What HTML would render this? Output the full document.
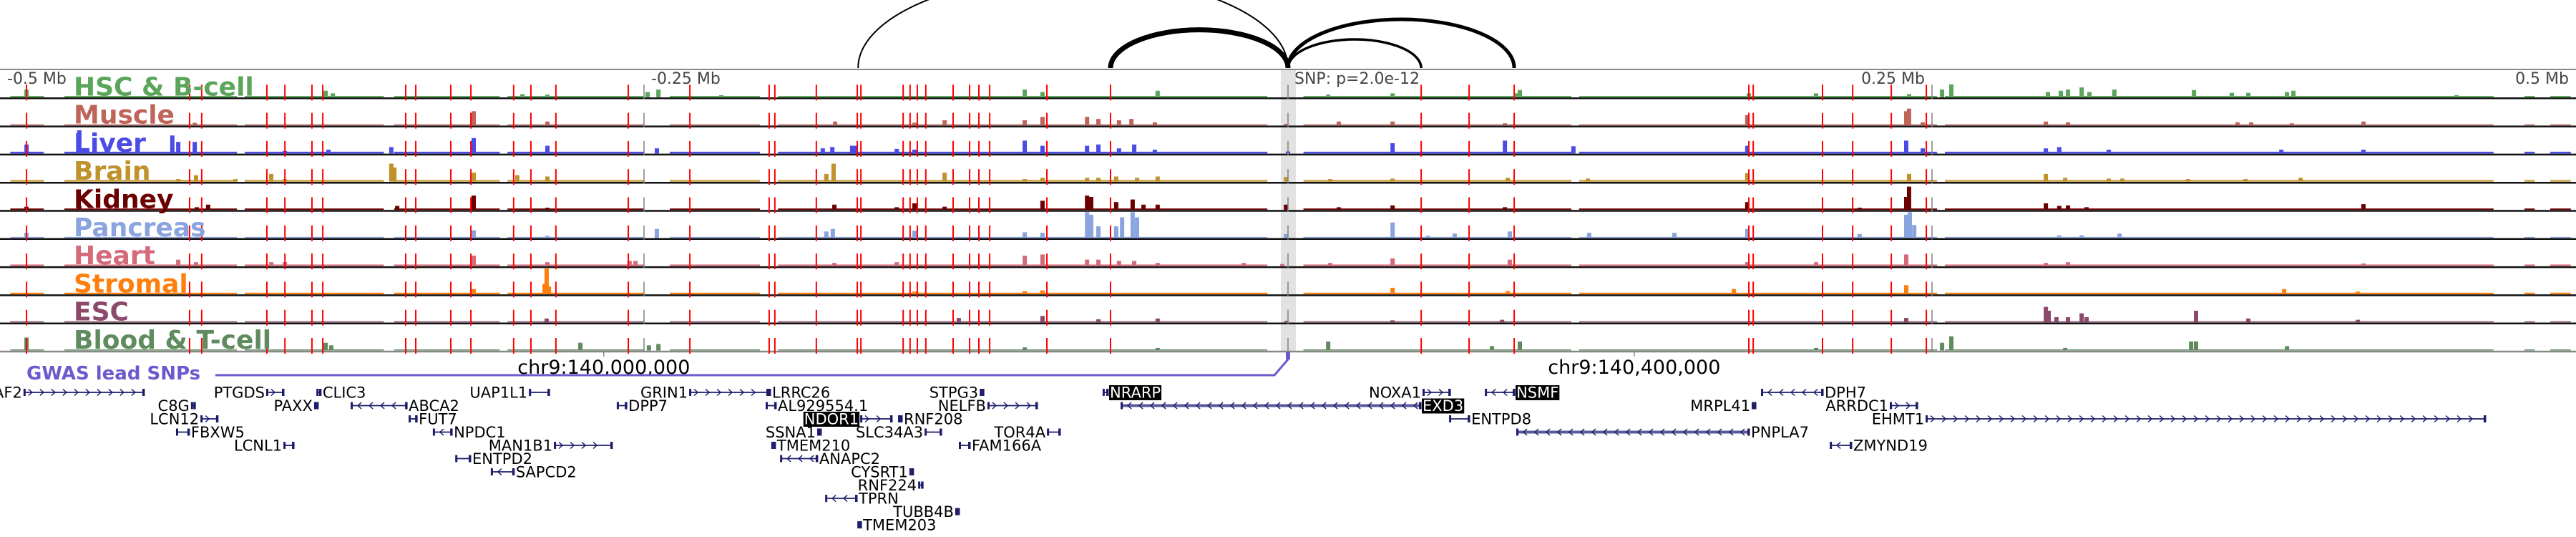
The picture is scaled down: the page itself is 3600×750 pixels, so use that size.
<!DOCTYPE html>
<html><head><meta charset="utf-8">
<style>
html,body{margin:0;padding:0;background:#fff;}
svg{display:block;font-family:"DejaVu Sans","Liberation Sans",sans-serif;}
</style></head>
<body>
<svg id="chart" width="3600" height="750" viewBox="0 0 3600 750" xmlns="http://www.w3.org/2000/svg">
<g id="bg"></g>
<g id="tracks"></g>
<g id="arcs"></g>
<g id="axis"></g>
<g id="genes"></g>
</svg>
<script>
// ---------- data ----------
const trackNames = ["HSC & B-cell","Muscle","Liver","Brain","Kidney","Pancreas","Heart","Stromal","ESC","Blood & T-cell"];
const trackColors = ["#5aa55a","#c0645a","#4b4be6","#c0922c","#6b0000","#8aa4e0","#d46a7a","#ff7f0e","#8b4a6b","#5f8b5f"];
const baseLevels = [0.05,0.04,0.07,0.06,0.05,0.04,0.06,0.06,0.04,0.04];
const coverage = [[-496,-483],[-475,-408],[-405,-351],[-347,-306],[-303,-250],[-240,-205],[-198,-8],[6,110],[113,252],[255,468],[480,484],[490,498]];
const peaksHSC = [[-489.7,.3],[-373.6,.25],[-370.8,.15],[-297.2,.12],[-287.5,.1],[-248.6,.2],[-244.4,.3],[-220,.08],[-102.2,.3],[-95.3,.2],[-50.6,.25],[15.6,.1],[40.6,.15],[88.9,.15],[90,.28],[178.9,.15],[205,.15],[241.1,.12],[253.9,.3],[257.5,.5],[295,.2],[300,.25],[302.8,.3],[308.1,.38],[311.1,.2],[320.8,.3],[351.7,.28],[366.4,.17],[372.8,.17],[387.8,.2],[390.3,.25],[453.6,.08]];
const peaksMuscle = [[-424.4,.1],[-316.1,.55],[-287.5,.15],[-175.8,.15],[-145,.1],[-133.3,.2],[-102.2,.2],[-95.3,.33],[-78,.33],[-73.6,.25],[-65.6,.2],[-60.8,.25],[-51.7,.12],[-0.8,.06],[19.7,.15],[40.6,.15],[84.2,.08],[178.3,.4],[240,.55],[241.1,.65],[246.4,.12],[294.2,.15],[302.8,.12],[368.6,.12],[373.9,.12],[389.7,.08],[417.5,.15]];
const peaksLiver = [[-489.7,.35],[-469.2,.9],[-433.1,.7],[-430.8,.45],[-424.4,.45],[-389.4,.1],[-372.5,.15],[-348.1,.25],[-316.1,.6],[-287.5,.3],[-245,.2],[-180.6,.2],[-176.9,.25],[-169.2,.3],[-168.3,.3],[-151.9,.18],[-145,.15],[-102.2,.5],[-95.3,.3],[-78,.3],[-73.6,.35],[-65.6,.2],[-59.7,.35],[-51.7,.15],[0,.08],[40.6,.4],[84.2,.5],[110.8,.28],[178.3,.3],[240,.5],[246.4,.2],[294.2,.2],[299.4,.25],[318.6,.15],[385.6,.15],[417.5,.15]];
const peaksBrain = [[-430.8,.1],[-423.9,.25],[-408.6,.1],[-394.7,.3],[-389.4,.1],[-348.1,.7],[-346.9,.55],[-316.1,.35],[-299.2,.25],[-287.5,.2],[-179.2,.3],[-176.4,.7],[-133.3,.35],[-102.2,.1],[-95.3,.15],[-78,.15],[-73.6,.15],[-66.7,.2],[-58.6,.15],[-50.6,.2],[-0.8,.18],[16.4,.1],[40.6,.12],[85.3,.15],[116.4,.12],[178.3,.33],[241.1,.3],[294.2,.3],[301.7,.15],[318.6,.12],[323.9,.12],[349.4,.1],[371.7,.1],[393.1,.15]];
const peaksKidney = [[-489.7,.12],[-469.2,.15],[-423.6,.1],[-419.2,.2],[-345.8,.15],[-316.1,.55],[-287.5,.08],[-176.1,.2],[-151.9,.1],[-145,.25],[-133.3,.12],[-95.3,.35],[-78,.55],[-76.4,.5],[-66.7,.3],[-60.3,.4],[-56.1,.2],[-50.6,.2],[-0.8,.2],[19.7,.1],[40.6,.17],[84.2,.1],[178.3,.3],[221.9,.08],[240,.5],[241.1,.9],[294.2,.25],[299.4,.15],[302.8,.17],[310,.1],[417.5,.22]];
const peaksPancreas = [[-489.7,.2],[-316.1,.3],[-287.5,.08],[-245,.35],[-179.2,.25],[-176.7,.35],[-145,.28],[-102.2,.22],[-95.3,.2],[-78,1.0],[-76.4,.9],[-73.6,.45],[-66.7,.45],[-64.4,.8],[-60.3,1.0],[-58.6,.8],[-0.8,.15],[40.6,.6],[54.4,.08],[64.7,.17],[86.1,.25],[116.9,.2],[150,.2],[178.3,.35],[221.9,.15],[240,.9],[241.4,1.0],[243.1,.5],[299.4,.1],[308.1,.1],[322.8,.17]];
const peaksHeart = [[-430.8,.25],[-423.9,.15],[-394.7,.15],[-389.4,.15],[-316.1,.4],[-287.5,.15],[-255.6,.2],[-253.3,.2],[-176.1,.12],[-151.9,.15],[-102.2,.4],[-95.3,.45],[-78,.25],[-73.6,.25],[-65.6,.2],[-59.7,.2],[-50.6,.12],[-17.2,.12],[-2.2,.08],[16.4,.12],[40.6,.3],[86.1,.25],[178.3,.15],[205,.15],[240,.45],[294.2,.12],[302.8,.15],[417.5,.1]];
const peaksStromal = [[-316.1,.2],[-288.6,.4],[-287.8,1.0],[-286.9,.3],[-145,.1],[-102.2,.12],[-95.3,.15],[40.6,.25],[85.3,.12],[173.1,.2],[240,.35],[386.7,.2],[415.3,.1]];
const peaksESC = [[-287.8,.15],[-127.8,.17],[-95.3,.25],[-73.6,.12],[-50.6,.15],[-0.6,.06],[40.6,.08],[83.1,.1],[240,.17],[294.2,.6],[295.3,.45],[298.3,.2],[302.8,.2],[308.1,.35],[310,.2],[352.5,.45],[372.8,.15],[415.3,.1]];
const peaksBlood = [[-489.7,.5],[-373.6,.3],[-371.4,.2],[-274.7,.3],[-248.1,.2],[-244.4,.25],[-102.2,.12],[-50.6,.1],[15.6,.35],[79.2,.17],[90,.35],[205,.1],[253.9,.3],[257.5,.55],[301.7,.1],[350.6,.35],[352.5,.35],[387.8,.17]];
const allPeaks = [peaksHSC,peaksMuscle,peaksLiver,peaksBrain,peaksKidney,peaksPancreas,peaksHeart,peaksStromal,peaksESC,peaksBlood];
const redLinesKb = [-489.7,-426.4,-421.7,-396.4,-389.4,-378.9,-374.7,-342.5,-338.6,-325,-317.2,-300.6,-293.9,-284.2,-256.1,-232.2,-201.4,-199.2,-183.1,-167.2,-165.8,-149.4,-146.7,-143.9,-140.6,-130,-123.6,-120,-115.8,-93.6,-68.9,51.7,70.3,87.8,178.9,180.6,207.5,219.2,234.2,247.8];
const grayLinesKb = [-250,0,250];
const arcEndsKb = [-166.9,-68.9,51.7,87.8];
const arcWeights = [2,7,3.5,5];
const scaleLabels = ["-0.5 Mb","-0.25 Mb","SNP: p=2.0e-12","0.25 Mb","0.5 Mb"];
const chrTickKb = [-265.6,134.4];
const chrTickLabels = ["chr9:140,000,000","chr9:140,400,000"];
const snpKb = [0];
const genes = [
 {n:"AF2",r:0,s:-490.6,e:-444.2,d:"+",side:"L"},
 {n:"PTGDS",r:0,s:-396.4,e:-390,d:"+",side:"L"},
 {n:"CLIC3",r:0,s:-376.9,e:-375.6,d:"",side:"R"},
 {n:"UAP1L1",r:0,s:-294.4,e:-286.9,d:"",side:"L"},
 {n:"GRIN1",r:0,s:-232.2,e:-201.9,d:"+",side:"L"},
 {n:"LRRC26",r:0,s:-202.2,e:-201.1,d:"",side:"R"},
 {n:"STPG3",r:0,s:-119.4,e:-118.3,d:"",side:"L"},
 {n:"NRARP",r:0,s:-71.7,e:-70,d:"",side:"R",hl:1},
 {n:"NOXA1",r:0,s:52.5,e:62.8,d:"+",side:"L"},
 {n:"NSMF",r:0,s:76.7,e:87.8,d:"-",side:"R",hl:1},
 {n:"DPH7",r:0,s:183.9,e:207.5,d:"-",side:"R"},
 {n:"C8G",r:1,s:-425.6,e:-424.4,d:"",side:"L"},
 {n:"PAXX",r:1,s:-377.8,e:-376.7,d:"",side:"L"},
 {n:"ABCA2",r:1,s:-363.6,e:-342.2,d:"-",side:"R"},
 {n:"DPP7",r:1,s:-260.3,e:-256.9,d:"",side:"R"},
 {n:"AL929554.1",r:1,s:-202.5,e:-198.9,d:"-",side:"R"},
 {n:"NELFB",r:1,s:-116.4,e:-97.5,d:"+",side:"L"},
 {n:"EXD3",r:1,s:-64.7,e:51.4,d:"-",side:"R",hl:1,wide:1},
 {n:"MRPL41",r:1,s:180.3,e:181.4,d:"",side:"L"},
 {n:"ARRDC1",r:1,s:233.9,e:244.2,d:"+",side:"L"},
 {n:"LCN12",r:2,s:-421.9,e:-415.6,d:"+",side:"L"},
 {n:"FUT7",r:2,s:-341.1,e:-338.3,d:"",side:"R"},
 {n:"NDOR1",r:2,s:-165.8,e:-153.9,d:"+",side:"L",hl:1},
 {n:"RNF208",r:2,s:-151.1,e:-150,d:"",side:"R"},
 {n:"ENTPD8",r:2,s:62.8,e:70.3,d:"",side:"R"},
 {n:"EHMT1",r:2,s:247.8,e:464.7,d:"+",side:"L"},
 {n:"FBXW5",r:3,s:-431.4,e:-426.7,d:"",side:"R"},
 {n:"NPDC1",r:3,s:-331.7,e:-324.7,d:"-",side:"R"},
 {n:"SSNA1",r:3,s:-182.5,e:-181.4,d:"",side:"L"},
 {n:"SLC34A3",r:3,s:-140.8,e:-134.7,d:"",side:"L"},
 {n:"TOR4A",r:3,s:-93.3,e:-88.6,d:"",side:"L"},
 {n:"PNPLA7",r:3,s:88.9,e:178.9,d:"-",side:"R",wide:1},
 {n:"LCNL1",r:4,s:-389.7,e:-386.1,d:"",side:"L"},
 {n:"MAN1B1",r:4,s:-284.7,e:-262.5,d:"+",side:"L"},
 {n:"TMEM210",r:4,s:-200.3,e:-199.2,d:"",side:"R"},
 {n:"FAM166A",r:4,s:-127.5,e:-123.6,d:"-",side:"R"},
 {n:"ZMYND19",r:4,s:210.6,e:218.6,d:"-",side:"R"},
 {n:"ENTPD2",r:5,s:-323,e:-317.5,d:"",side:"R"},
 {n:"ANAPC2",r:5,s:-196.9,e:-182.8,d:"-",side:"R"},
 {n:"SAPCD2",r:6,s:-309.2,e:-300.6,d:"-",side:"R"},
 {n:"CYSRT1",r:6,s:-146.7,e:-145.6,d:"",side:"L"},
 {n:"RNF224",r:7,s:-143.3,e:-141.9,d:"",side:"L"},
 {n:"TPRN",r:8,s:-179.4,e:-167.5,d:"-",side:"R"},
 {n:"TUBB4B",r:9,s:-128.9,e:-127.8,d:"",side:"L"},
 {n:"TMEM203",r:10,s:-166.9,e:-165.8,d:"",side:"R"}
];

// ---------- helpers ----------
const NS="http://www.w3.org/2000/svg";
function mk(tag, parent, attrs){const el=document.createElementNS(NS,tag);for(const k in attrs)el.setAttribute(k,attrs[k]);parent.appendChild(el);return el;}
const X = kb => 1800 + kb*3.6;
const TOP=98, TH=39.3, PH=36;
const trackBottom = i => TOP + (i+1)*TH;
const bg=document.getElementById('bg'), tg=document.getElementById('tracks'), ag=document.getElementById('arcs'), xg=document.getElementById('axis'), gg=document.getElementById('genes');

snpKb.forEach(k=>{
  const r=mk('rect',bg,{x:X(k)-10,y:97,width:21,height:394,fill:'#e2e2e2'});
  
  
});
const bt=mk('line',bg,{x1:0,y1:97,x2:3600,y2:97,stroke:'#888','stroke-width':2});



trackNames.forEach((name,i)=>{
  const g=mk('g',tg,{});
  
  
  const b=trackBottom(i), col=trackColors[i];
  coverage.forEach(c=>{
    const h=baseLevels[i]*PH;
    const r=mk('rect',g,{x:X(c[0]),y:b-1.5-h,width:X(c[1])-X(c[0]),height:h,fill:col});
    
    
  });
  allPeaks[i].forEach(p=>{
    const h=p[1]*PH;
    const r=mk('rect',g,{x:X(p[0])-3,y:b-1.5-h,width:6,height:h,fill:col});
    
    
  });
  const sep=mk('line',g,{x1:0,y1:b,x2:3600,y2:b,stroke:(i==9?'#888':'#111'),'stroke-width':2.5});
  
  
  redLinesKb.forEach(k=>{
    const l=mk('line',g,{x1:X(k),y1:b-19,x2:X(k),y2:b+3,stroke:'#ff0000','stroke-width':2});
    
    
  });
  grayLinesKb.forEach(k=>{
    const l=mk('line',g,{x1:X(k),y1:b-19,x2:X(k),y2:b+1,stroke:'#808080','stroke-width':1.5});
    
    
  });
  const t=mk('text',g,{x:103,y:b-4,'font-size':36,'font-weight':'bold',fill:col});
  t.textContent=name;
  
  
});

const slPos=[[10,'start'],[910,'start'],[1809,'start'],[2690,'end'],[3590,'end']];
scaleLabels.forEach((s,i)=>{
  const t=mk('text',xg,{x:slPos[i][0],y:117,'font-size':22,fill:'#444','text-anchor':slPos[i][1]});
  t.textContent=s;
  
  
});

arcEndsKb.forEach((k,i)=>{
  const a=Math.min(X(k),1800), bx=Math.max(X(k),1800), rx=(bx-a)/2, ry=rx*0.43;
  const p=mk('path',ag,{d:`M${a} 95 A${rx} ${ry} 0 0 1 ${bx} 95`,fill:'none',stroke:'#000','stroke-width':arcWeights[i]});
  
  
});

chrTickKb.forEach((k,i)=>{
  const l=mk('line',xg,{x1:X(k),y1:491,x2:X(k),y2:498,stroke:'#555','stroke-width':1});
  
  
  const t=mk('text',xg,{x:X(k),y:522,'font-size':27,fill:'#000','text-anchor':'middle'});
  t.textContent=chrTickLabels[i];
  
  
});

const gw=mk('text',xg,{x:37,y:530,'font-size':26,'font-weight':'bold',fill:'#6a5acd'});
gw.textContent='GWAS lead SNPs';


snpKb.forEach(k=>{
  const pl=mk('polyline',xg,{points:`301,524 ${X(k)-19},524 ${X(k)},502 ${X(k)},492`,fill:'none',stroke:'#6a5acd','stroke-width':3});
  
  
  const r=mk('rect',xg,{x:X(k)-3,y:492,width:6,height:10,fill:'#6a5acd'});
  
  
});

const NAVY='#1c1c6b';
genes.forEach(gn=>{
  const g=mk('g',gg,{});
  
  
  const y=548+gn.r*18.5, x1=X(gn.s), x2=X(gn.e);
  const col=gn.wide?'#5a5a9a':NAVY;
  mk('line',g,{x1:x1,y1:y,x2:x2,y2:y,stroke:col,'stroke-width':gn.wide?4:1.8});
  if(gn.d){
    for(let x=x1+10;x<x2-6;x+=16){
      const pts=gn.d=='+'?`${x-4},${y-4.5} ${x+1},${y} ${x-4},${y+4.5}`:`${x+4},${y-4.5} ${x-1},${y} ${x+4},${y+4.5}`;
      mk('polyline',g,{points:pts,fill:'none',stroke:NAVY,'stroke-width':1.5});
    }
  }
  mk('rect',g,{x:x1-1,y:y-5,width:3,height:10,fill:NAVY});
  mk('rect',g,{x:x2-2,y:y-5,width:3.5,height:10,fill:NAVY});
  const tx=gn.side=='L'?x1-3:x2+3, anc=gn.side=='L'?'end':'start';
  const t=mk('text',g,{x:tx,y:y+7.5,'font-size':21,fill:gn.hl?'#fff':'#000','text-anchor':anc});
  t.textContent=gn.n;
  
  
  if(gn.hl){
    const w=t.getComputedTextLength();
    const rx=anc=='end'?tx-w-1:tx-1;
    mk('rect',g,{x:rx,y:y-10,width:w+2,height:21,fill:'#000'});
    g.appendChild(t);
  }
});
</script>
</body></html>
